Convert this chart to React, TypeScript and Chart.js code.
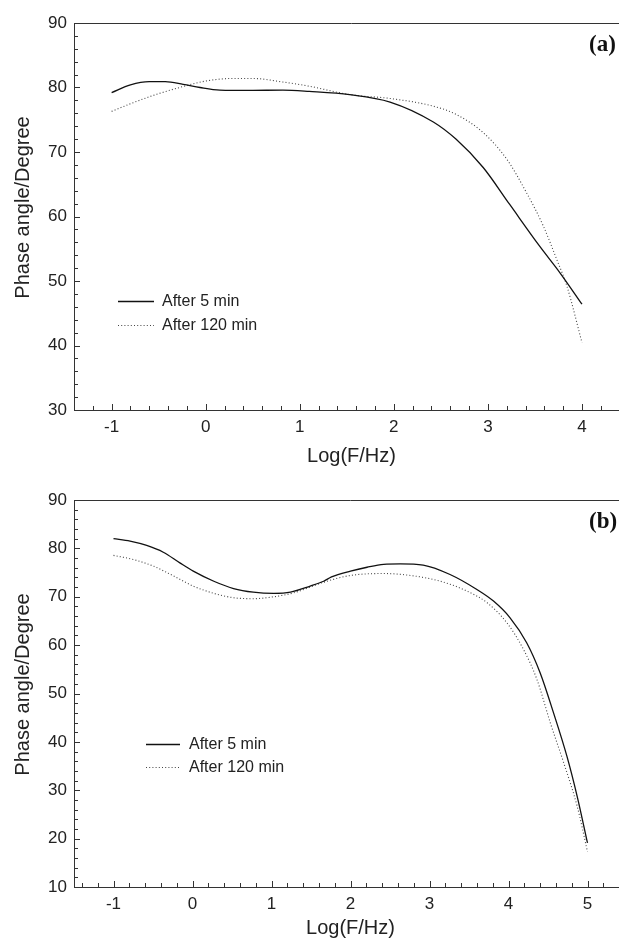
import React, { useEffect, useRef } from "react";
import { Chart, registerables } from "chart.js";

Chart.register(...registerables);

// ---------- data ----------
const seriesNames = ["After 5 min", "After 120 min"];
const xTitle = "Log(F/Hz)";
const yTitle = "Phase angle/Degree";

// panel (a)
const xTicksA = [-1, 0, 1, 2, 3, 4];
const yTicksA = [30, 40, 50, 60, 70, 80, 90];
const a5X = [-1, -0.8, -0.6, -0.43, -0.24, -0.06, 0.15, 0.47, 0.82, 1.1, 1.53, 1.96, 2.42, 2.66, 2.95, 3.23, 3.55, 3.77, 4.0];
const a5Y = [79.2, 80.4, 80.9, 80.9, 80.5, 80.0, 79.6, 79.55, 79.6, 79.4, 78.9, 77.75, 74.65, 72.0, 67.6, 61.9, 55.4, 51.2, 46.4];
const a120X = [-1, -0.77, -0.52, -0.24, 0.0, 0.29, 0.5, 0.82, 1.1, 1.53, 1.96, 2.42, 2.66, 2.95, 3.2, 3.41, 3.59, 3.73, 3.84, 4.0];
const a120Y = [76.3, 77.65, 78.95, 80.15, 81.0, 81.4, 81.4, 80.85, 80.2, 78.9, 78.3, 77.1, 75.85, 73.0, 68.9, 63.7, 58.5, 53.4, 49.2, 40.45];

// panel (b)
const xTicksB = [-1, 0, 1, 2, 3, 4, 5];
const yTicksB = [10, 20, 30, 40, 50, 60, 70, 80, 90];
const b5X = [-1, -0.79, -0.58, -0.37, -0.16, 0.01, 0.27, 0.52, 0.77, 1.03, 1.24, 1.49, 1.66, 1.76, 2.0, 2.21, 2.42, 2.63, 2.92, 3.26, 3.6, 3.81, 4.02, 4.23, 4.4, 4.57, 4.74, 4.87, 5.0];
const b5Y = [82.0, 81.5, 80.6, 79.2, 77.0, 75.3, 73.2, 71.7, 70.95, 70.7, 70.95, 72.2, 73.2, 74.1, 75.3, 76.1, 76.7, 76.8, 76.55, 74.6, 71.5, 69.1, 65.65, 60.5, 54.3, 46.0, 37.0, 28.7, 19.1];
const b120X = [-1, -0.75, -0.49, -0.24, 0.01, 0.27, 0.52, 0.77, 1.03, 1.28, 1.66, 2.0, 2.42, 2.76, 3.14, 3.47, 3.73, 3.98, 4.19, 4.36, 4.53, 4.7, 4.87, 5.0];
const b120Y = [78.55, 77.7, 76.3, 74.3, 72.2, 70.7, 69.8, 69.6, 70.0, 70.8, 73.0, 74.4, 74.8, 74.4, 73.2, 71.2, 68.75, 64.6, 59.1, 52.9, 43.9, 35.6, 26.65, 17.3];

// ---------- styling ----------
const SANS = "'Liberation Sans', Arial, Helvetica, sans-serif";
const SERIF = "'Liberation Serif', 'Times New Roman', serif";
const AXIS = "#333";
const TEXT = "#222";

const zip = (xs: number[], ys: number[]) => xs.map((x, i) => ({ x, y: ys[i] }));

const decorPlugin = {
  id: "decor",
  afterDraw(chart: any, _args: any, opts: any) {
    const { ctx, chartArea: ca, scales } = chart;
    const xs = scales.x;
    const ys = scales.y;
    ctx.save();
    ctx.strokeStyle = AXIS;
    ctx.lineWidth = 1;
    // top frame line
    ctx.beginPath();
    ctx.moveTo(ca.left, Math.round(ca.top) + 0.5);
    ctx.lineTo(ca.right, Math.round(ca.top) + 0.5);
    ctx.stroke();
    // x ticks (inward)
    const eps = 1e-6;
    const xStep = opts.xMinor;
    for (let k = Math.ceil(xs.min / xStep - eps); k <= Math.floor(xs.max / xStep + eps); k++) {
      const v = k * xStep;
      const major = Math.abs(v - Math.round(v)) < eps;
      const px = Math.round(xs.getPixelForValue(v)) + 0.5;
      const len = major ? 6 : 4;
      ctx.beginPath();
      ctx.moveTo(px, ca.bottom);
      ctx.lineTo(px, ca.bottom - len);
      ctx.stroke();
    }
    // y ticks (inward)
    const yStep = opts.yMinor;
    for (let k = Math.ceil(ys.min / yStep - eps); k <= Math.floor(ys.max / yStep + eps); k++) {
      const v = k * yStep;
      const major = Math.abs(v / 10 - Math.round(v / 10)) < eps;
      const py = Math.round(ys.getPixelForValue(v)) + 0.5;
      const len = major ? 6 : 4;
      ctx.beginPath();
      ctx.moveTo(ca.left, py);
      ctx.lineTo(ca.left + len, py);
      ctx.stroke();
    }
    // y title
    ctx.fillStyle = TEXT;
    ctx.font = `20px ${SANS}`;
    ctx.textAlign = "center";
    ctx.textBaseline = "middle";
    ctx.save();
    ctx.translate(opts.yTitleX, (ca.top + ca.bottom) / 2 + opts.yTitleShift);
    ctx.rotate(-Math.PI / 2);
    ctx.fillText(yTitle, 0, 0);
    ctx.restore();
    // legend
    ctx.font = `16px ${SANS}`;
    ctx.textAlign = "left";
    chart.data.datasets.forEach((ds: any, i: number) => {
      const y = opts.legendY + i * opts.legendGap;
      ctx.save();
      ctx.strokeStyle = ds.borderColor;
      ctx.lineWidth = ds.borderWidth;
      ctx.setLineDash(ds.borderDash || []);
      ctx.beginPath();
      ctx.moveTo(opts.legendX, Math.round(y) + 0.5);
      ctx.lineTo(opts.legendX + opts.legendLen, Math.round(y) + 0.5);
      ctx.stroke();
      ctx.restore();
      ctx.fillStyle = TEXT;
      ctx.fillText(ds.label, opts.legendX + opts.legendLen + opts.legendTextGap, y + 1);
    });
    // panel label
    ctx.font = `bold 23px ${SERIF}`;
    ctx.fillStyle = "#111";
    ctx.textAlign = "left";
    ctx.textBaseline = "alphabetic";
    ctx.fillText(opts.panelLabel, opts.labelX, ca.top + opts.labelDy);
    ctx.restore();
  },
};

function buildConfig(p: any) {
  return {
    type: "line",
    data: {
      datasets: [
        {
          label: seriesNames[0],
          data: zip(p.x1, p.y1),
          borderColor: "#111",
          borderWidth: 1.3,
          pointRadius: 0,
          fill: false,
          cubicInterpolationMode: "monotone",
        },
        {
          label: seriesNames[1],
          data: zip(p.x2, p.y2),
          borderColor: "#444",
          borderWidth: 1.1,
          borderDash: [1, 2.2],
          pointRadius: 0,
          fill: false,
          cubicInterpolationMode: "monotone",
        },
      ],
    },
    options: {
      animation: false,
      responsive: false,
      devicePixelRatio: 1,
      events: [],
      layout: { padding: { left: 0, top: p.padTop, right: p.padRight, bottom: 0 } },
      plugins: {
        legend: { display: false },
        tooltip: { enabled: false },
        decor: p.decor,
      },
      scales: {
        x: {
          type: "linear",
          min: p.xMin,
          max: p.xMax,
          afterBuildTicks: (s: any) => {
            s.ticks = p.xTicks.map((v: number) => ({ value: v }));
          },
          afterFit: (s: any) => {
            s.height = p.xAxisH;
          },
          grid: { display: false, drawTicks: false },
          border: { display: true, color: AXIS, width: 1 },
          ticks: {
            padding: 7,
            color: TEXT,
            font: { family: SANS, size: 17 },
            maxRotation: 0,
            autoSkip: false,
            callback: (v: number) => String(v),
          },
          title: {
            display: true,
            text: xTitle,
            color: TEXT,
            font: { family: SANS, size: 20 },
            padding: { top: 0, bottom: p.xTitlePad },
          },
        },
        y: {
          type: "linear",
          min: p.yMin,
          max: p.yMax,
          afterBuildTicks: (s: any) => {
            s.ticks = p.yTicks.map((v: number) => ({ value: v }));
          },
          afterFit: (s: any) => {
            s.width = 74;
          },
          grid: { display: false, drawTicks: false },
          border: { display: true, color: AXIS, width: 1 },
          ticks: {
            padding: 7,
            color: TEXT,
            font: { family: SANS, size: 17 },
            autoSkip: false,
            callback: (v: number) => String(v),
          },
        },
      },
    },
    plugins: [decorPlugin],
  };
}

function Panel({ cfg, top, width, height }: any) {
  const ref = useRef<HTMLCanvasElement | null>(null);
  useEffect(() => {
    if (!ref.current) return;
    const chart = new Chart(ref.current, buildConfig(cfg) as any);
    return () => chart.destroy();
  }, []);
  return (
    <canvas
      ref={ref}
      width={width}
      height={height}
      style={{ position: "absolute", left: 0, top, width, height, display: "block" }}
    />
  );
}

const cfgA = {
  x1: a5X, y1: a5Y, x2: a120X, y2: a120Y,
  xTicks: xTicksA, yTicks: yTicksA,
  xMin: -1.4, xMax: 4.5, yMin: 30, yMax: 90,
  padTop: 23, padRight: 11, xAxisH: 60, xTitlePad: 2,
  decor: {
    xMinor: 0.2, yMinor: 2, yTitleX: 23, yTitleShift: -9,
    legendX: 118, legendY: 301, legendGap: 24, legendLen: 36, legendTextGap: 8,
    panelLabel: "(a)", labelX: 589, labelDy: 28,
  },
};

const cfgB = {
  x1: b5X, y1: b5Y, x2: b120X, y2: b120Y,
  xTicks: xTicksB, yTicks: yTicksB,
  xMin: -1.5, xMax: 5.5, yMin: 10, yMax: 90,
  padTop: 30, padRight: 13, xAxisH: 57, xTitlePad: 4,
  decor: {
    xMinor: 0.2, yMinor: 2, yTitleX: 23, yTitleShift: -9,
    legendX: 146, legendY: 274, legendGap: 23, legendLen: 34, legendTextGap: 9,
    panelLabel: "(b)", labelX: 589, labelDy: 28,
  },
};

export default function App() {
  return (
    <div
      style={{
        position: "absolute",
        left: 0,
        top: 0,
        width: 619,
        height: 944,
        overflow: "hidden",
        background: "#fff",
      }}
    >
      <Panel cfg={cfgA} top={0} width={640} height={470} />
      <Panel cfg={cfgB} top={470} width={640} height={474} />
    </div>
  );
}
